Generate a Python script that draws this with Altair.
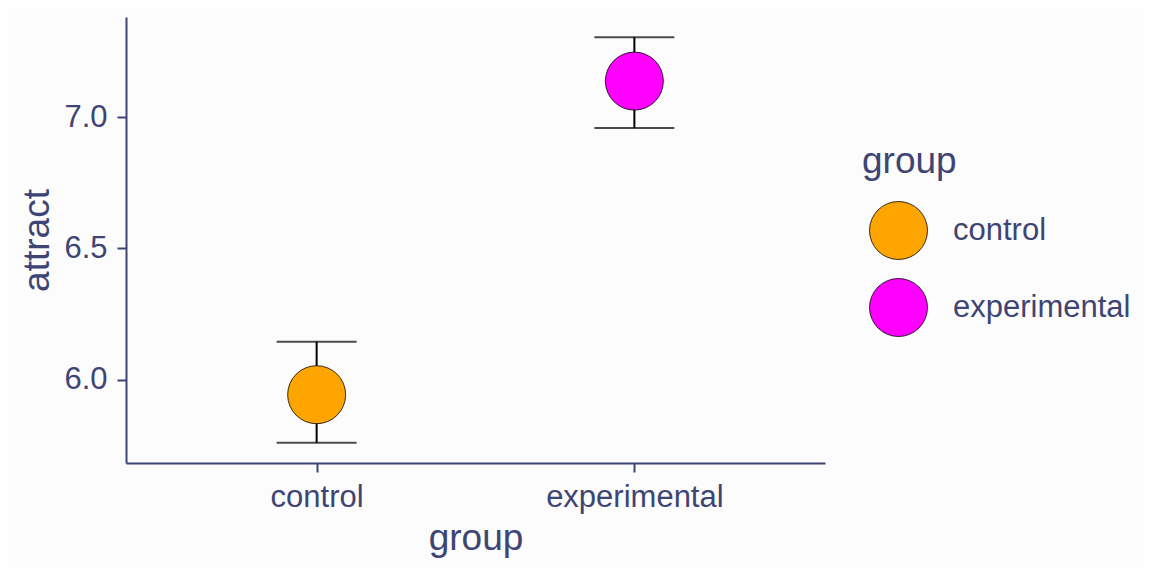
import altair as alt
import pandas as pd

groups = ["control", "experimental"]
means = [5.943, 7.137]
lowers = [5.760, 6.958]
uppers = [6.145, 7.304]
colors = ["#FFA500", "#FF00FF"]
y_ticks = [6.0, 6.5, 7.0]

df = pd.DataFrame({"group": groups, "attract": means, "lower": lowers, "upper": uppers})

TXT = "#3E4574"
FONT = "Liberation Sans"

x_enc = alt.X("group:N", title="group",
              scale=alt.Scale(type="point", padding=0.6, domain=groups),
              axis=alt.Axis(labelAngle=0, titleBaseline="alphabetic", titleY=86))
y_scale = alt.Scale(domain=[5.683, 7.381], nice=False, zero=False)

base = alt.Chart(df)

rule = base.mark_rule(color="black", strokeWidth=2).encode(
    x=x_enc,
    y=alt.Y("lower:Q", scale=y_scale, title="attract",
            axis=alt.Axis(values=y_ticks, format=".1f", titleAngle=270,
                          titleBaseline="alphabetic", titleX=-78)),
    y2="upper:Q",
)
cap_lo = base.mark_tick(color="black", thickness=2, size=80, orient="horizontal").encode(
    x=x_enc, y=alt.Y("lower:Q", scale=y_scale))
cap_hi = base.mark_tick(color="black", thickness=2, size=80, orient="horizontal").encode(
    x=x_enc, y=alt.Y("upper:Q", scale=y_scale))

pts = base.mark_point(filled=True, size=3364, stroke="black", strokeWidth=0.8,
                      opacity=1, shape="circle").encode(
    x=x_enc,
    y=alt.Y("attract:Q", scale=y_scale),
    fill=alt.Fill("group:N", scale=alt.Scale(domain=groups, range=colors),
                  legend=alt.Legend(title="group", orient="none", legendX=736, legendY=127,
                                    symbolType="circle", symbolSize=3364,
                                    symbolStrokeColor="black", symbolStrokeWidth=0.8,
                                    symbolOffset=7, labelOffset=25, rowPadding=14,
                                    titlePadding=20, padding=0, labelLimit=400)),
)

chart = alt.layer(rule, cap_lo, cap_hi, pts).properties(
    width=699, height=446,
    autosize=alt.AutoSizeParams(type="none"),
    padding={"left": 118, "top": 9, "right": 319, "bottom": 105},
    background="#FCFCFC",
).configure_view(stroke=None).configure_axis(
    domainColor=TXT, domainWidth=2, tickColor=TXT, tickWidth=2, tickSize=9,
    labelPadding=10, labelFontSize=31, labelColor=TXT, labelFont=FONT,
    titleFontSize=37, titleColor=TXT, titleFont=FONT, titleFontWeight="normal",
    grid=False,
).configure_legend(
    titleFontSize=37, titleColor=TXT, titleFont=FONT, titleFontWeight="normal",
    labelFontSize=31, labelColor=TXT, labelFont=FONT,
)

chart.save("out.html", embed_options={"renderer": "svg", "actions": False})
